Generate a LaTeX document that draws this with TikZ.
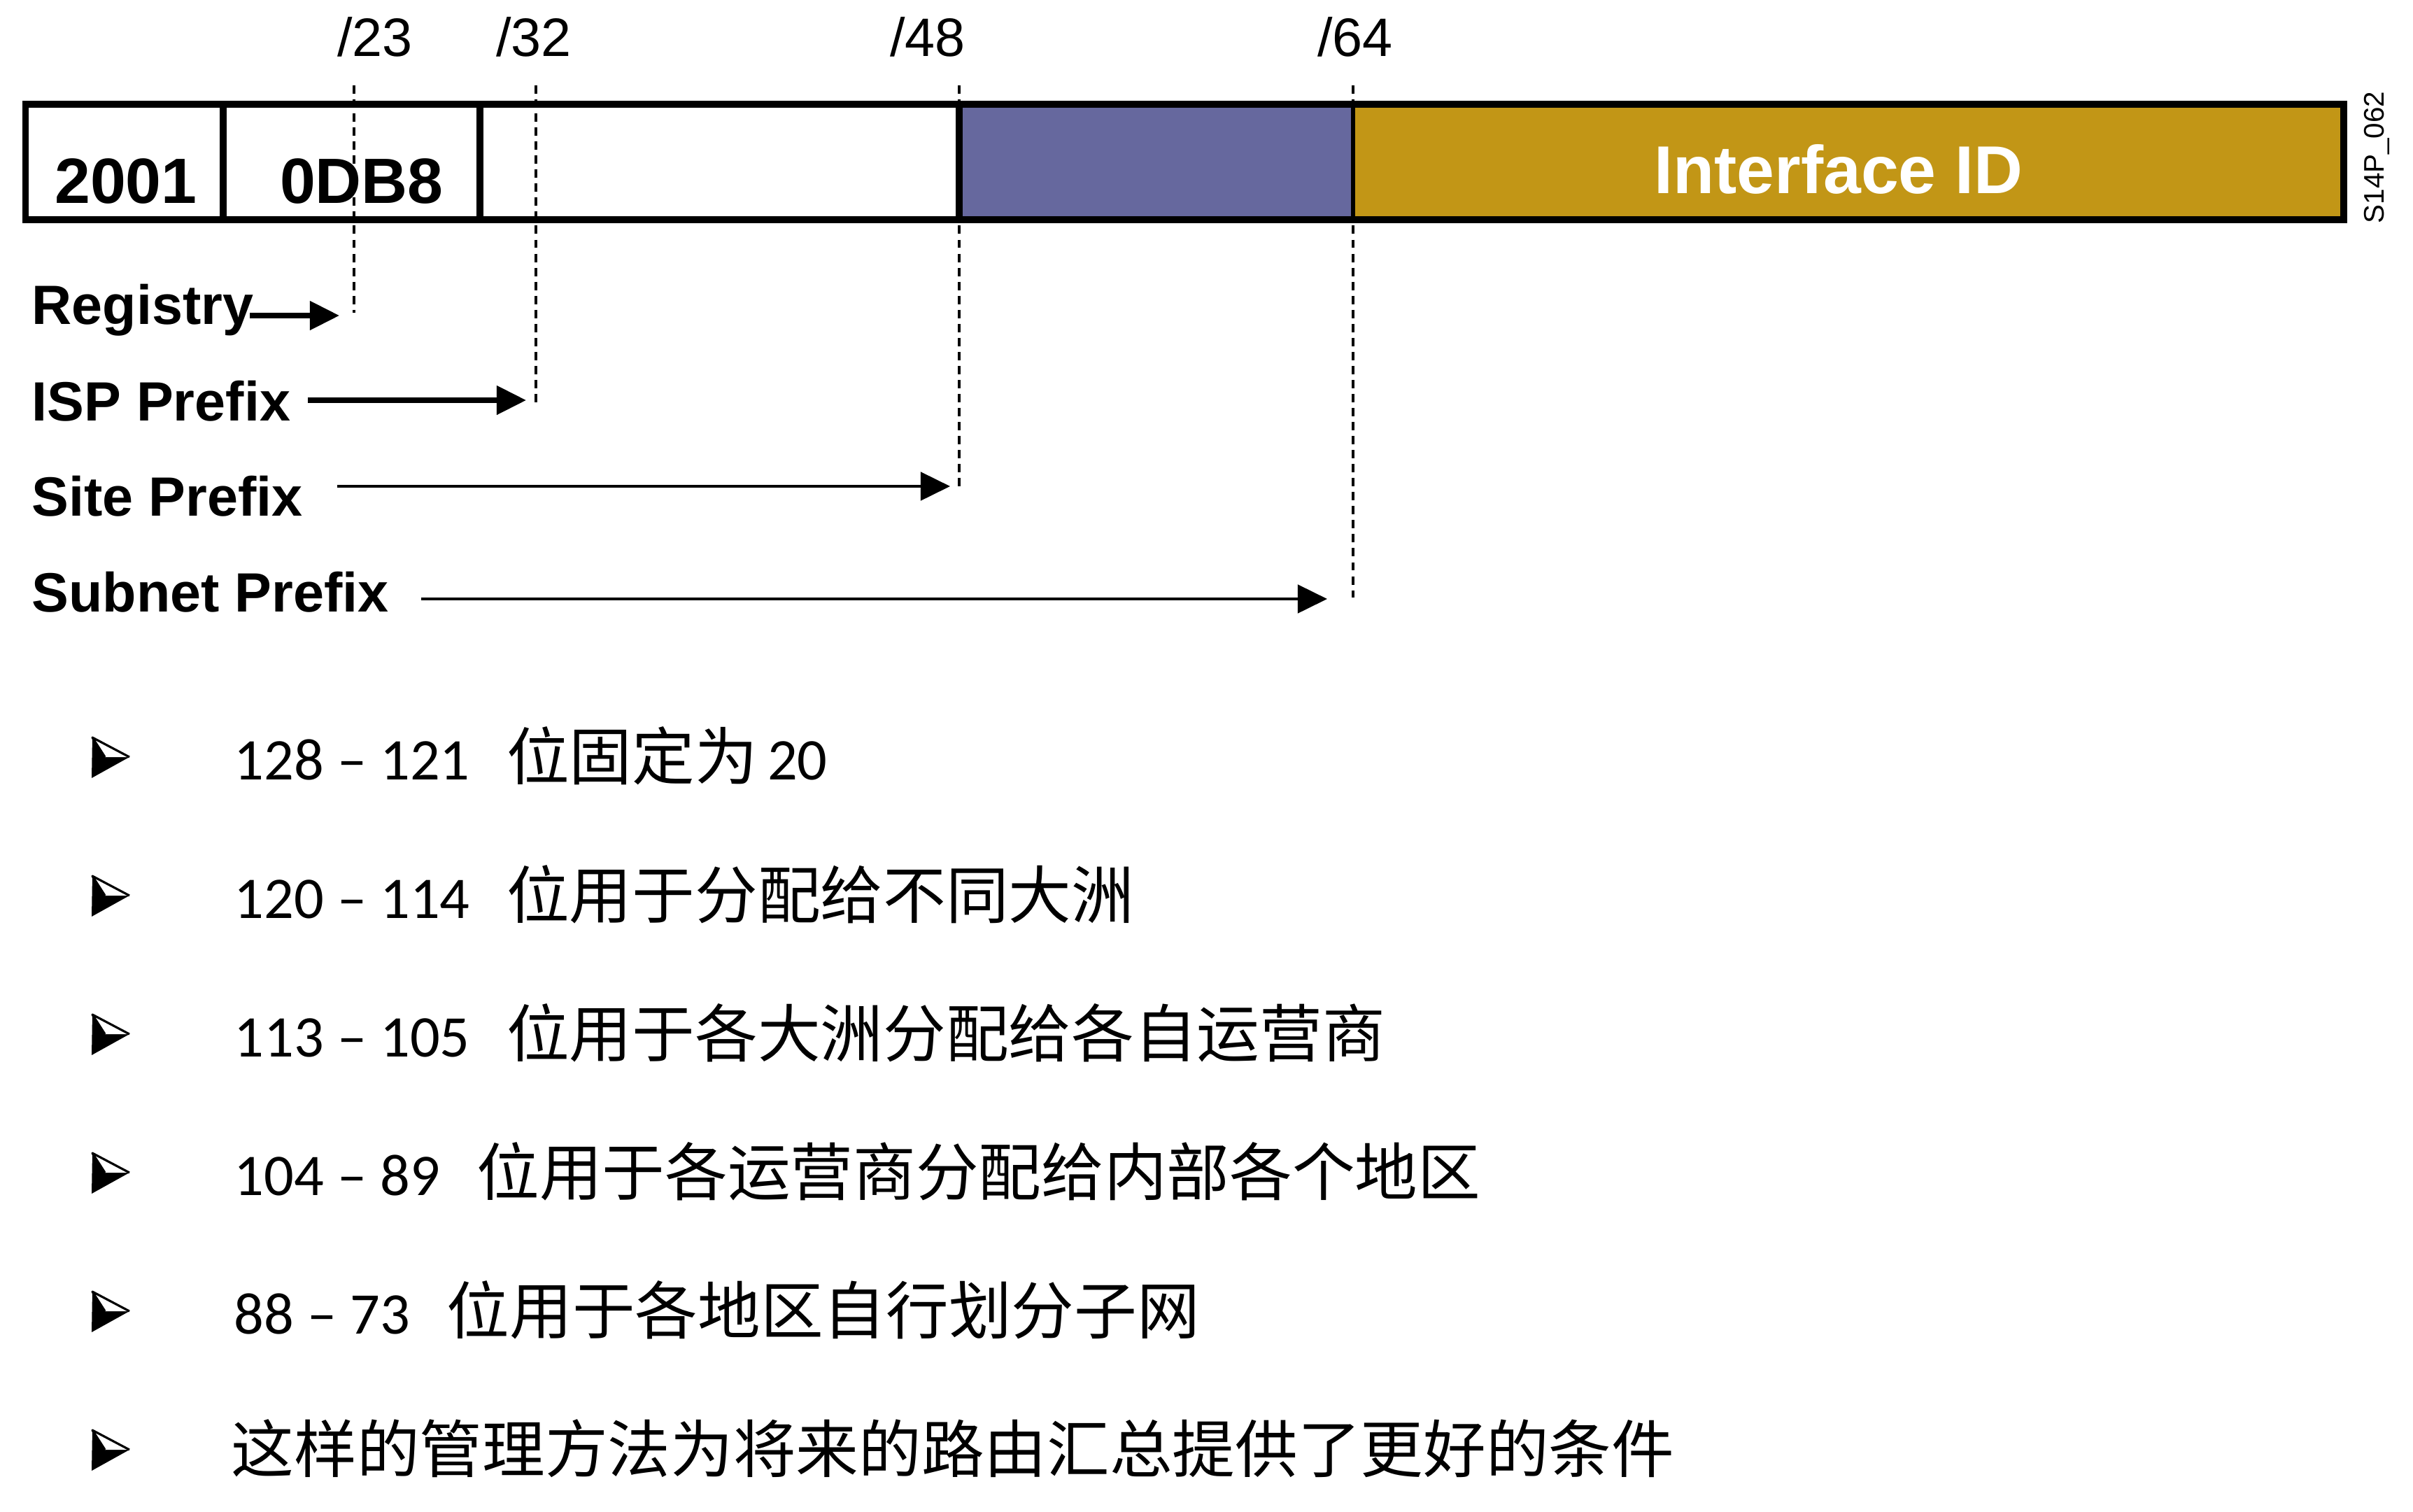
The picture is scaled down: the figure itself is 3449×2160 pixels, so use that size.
\documentclass[tikz,border=0pt]{standalone}
\usepackage{fontspec}
\setmainfont{Liberation Sans}
\newfontfamily\numfont{Carlito}
\newfontfamily\cjk{Noto Sans CJK SC}
\usetikzlibrary{arrows.meta}

\definecolor{sitecol}{RGB}{102,104,158}
\definecolor{ifcol}{RGB}{194,150,22}

\newcommand{\zh}[1]{{\cjk\fontsize{25.5}{30}\selectfont #1}}
\newcommand{\nums}[1]{{\numfont #1}}

\tikzset{
    bar/.style={line width=2.6pt},
    cut/.style={line width=0.9pt, dash pattern=on 3.4pt off 2.3pt},
    fieldtext/.style={font=\fontsize{26}{30}\selectfont\bfseries, anchor=base},
    bitlabel/.style={font=\fontsize{22}{26}\selectfont, anchor=base},
    preflabel/.style={font=\fontsize{22.5}{27}\selectfont\bfseries, anchor=base west, inner sep=0pt},
    prefarrow/.style={-{Triangle[length=12pt,width=11.5pt]}},
    item/.style={anchor=base west, inner sep=0pt, font=\fontsize{24}{28}\selectfont},
    bulletarrow/.pic={
        \fill[black] (-8,-1) -- (27,-1) -- (-27,29) -- (-26,-29) -- cycle;
        \fill[white] (-26,-29) -- (27,-1) -- (-8,-1) -- cycle;
        \draw[line width=0.9pt, line join=round] (-8,-1) -- (-26,-29) -- (27,-1);
    }
}

\begin{document}
\begin{tikzpicture}[x=0.01cm, y=-0.01cm]
    \useasboundingbox (0,0) rectangle (3449,2160);
    \fill[white] (0,0) rectangle (3449,2160);

    % Address fields
    \fill[sitecol] (1371,149) rectangle (1934,314);
    \fill[ifcol] (1934,149) rectangle (3350,314);
    \draw[bar] (36.5,149) rectangle (3350,314);
    \foreach \x in {319,686,1371}
        \draw[bar] (\x,149) -- (\x,314);
    \draw[line width=1.7pt] (1934,149) -- (1934,314);

    \node[fieldtext] (f2001) at (180,290) {2001};
    \node[fieldtext] (f0db8) at (517,290) {0DB8};
    \node[fieldtext, white, font=\fontsize{27.5}{30}\selectfont\bfseries] (ifid) at (2628,276) {Interface ID};
    \node[rotate=90, font=\fontsize{11.5}{12}\selectfont] (figid) at (3397,225) {S14P\_062};

    % Prefix boundaries
    \node[bitlabel] (b23) at (536,80) {/23};
    \node[bitlabel] (b32) at (763,80) {/32};
    \node[bitlabel] (b48) at (1326,80) {/48};
    \node[bitlabel] (b64) at (1937,80) {/64};

    \coordinate (c23) at (506,122);  \coordinate (e23) at (506,447);
    \coordinate (c32) at (766,122);  \coordinate (e32) at (766,576);
    \coordinate (c48) at (1371,122); \coordinate (e48) at (1371,697);
    \coordinate (c64) at (1934,122); \coordinate (e64) at (1934,854);
    \draw[cut] (c23) -- (e23);
    \draw[cut] (c32) -- (e32);
    \draw[cut] (c48) -- (e48);
    \draw[cut] (c64) -- (e64);

    % Prefix labels
    \node[preflabel] (reg) at (45,463) {Registry};
    \node[preflabel] (isp) at (45,601) {ISP Prefix};
    \node[preflabel] (site) at (45,737) {Site Prefix};
    \node[preflabel] (subnet) at (45,874) {Subnet Prefix};

    % Arrows
    \coordinate (regA) at (357,451);    \coordinate (regB) at (485,451);
    \coordinate (ispA) at (440,572);    \coordinate (ispB) at (752,572);
    \coordinate (siteA) at (482,695);   \coordinate (siteB) at (1358,695);
    \coordinate (subA) at (602,856);    \coordinate (subB) at (1897,856);
    \draw[prefarrow, line width=2pt] (regA) -- (regB);
    \draw[prefarrow, line width=2pt] (ispA) -- (ispB);
    \draw[prefarrow, line width=1.2pt] (siteA) -- (siteB);
    \draw[prefarrow, line width=1.2pt] (subA) -- (subB);

    % Bit ranges
    \foreach \y in {1083,1281,1479,1677,1875,2073}
        \pic at (158,\y) {bulletarrow};

    \node[item] (r1) at (334,1114) {\nums{128 – 121}\hspace{15pt}\zh{位固定为}\hspace{4pt}\nums{20}};
    \node[item] (r2) at (334,1312) {\nums{120 – 114}\hspace{15pt}\zh{位用于分配给不同大洲}};
    \node[item] (r3) at (334,1510) {\nums{113 – 105}\hspace{15pt}\zh{位用于各大洲分配给各自运营商}};
    \node[item] (r4) at (334,1708) {\nums{104 – 89}\hspace{15pt}\zh{位用于各运营商分配给内部各个地区}};
    \node[item] (r5) at (334,1906) {\nums{88 – 73}\hspace{15pt}\zh{位用于各地区自行划分子网}};
    \node[item] (r6) at (330,2104) {\zh{这样的管理方法为将来的路由汇总提供了更好的条件}};

\end{tikzpicture}
\end{document}
